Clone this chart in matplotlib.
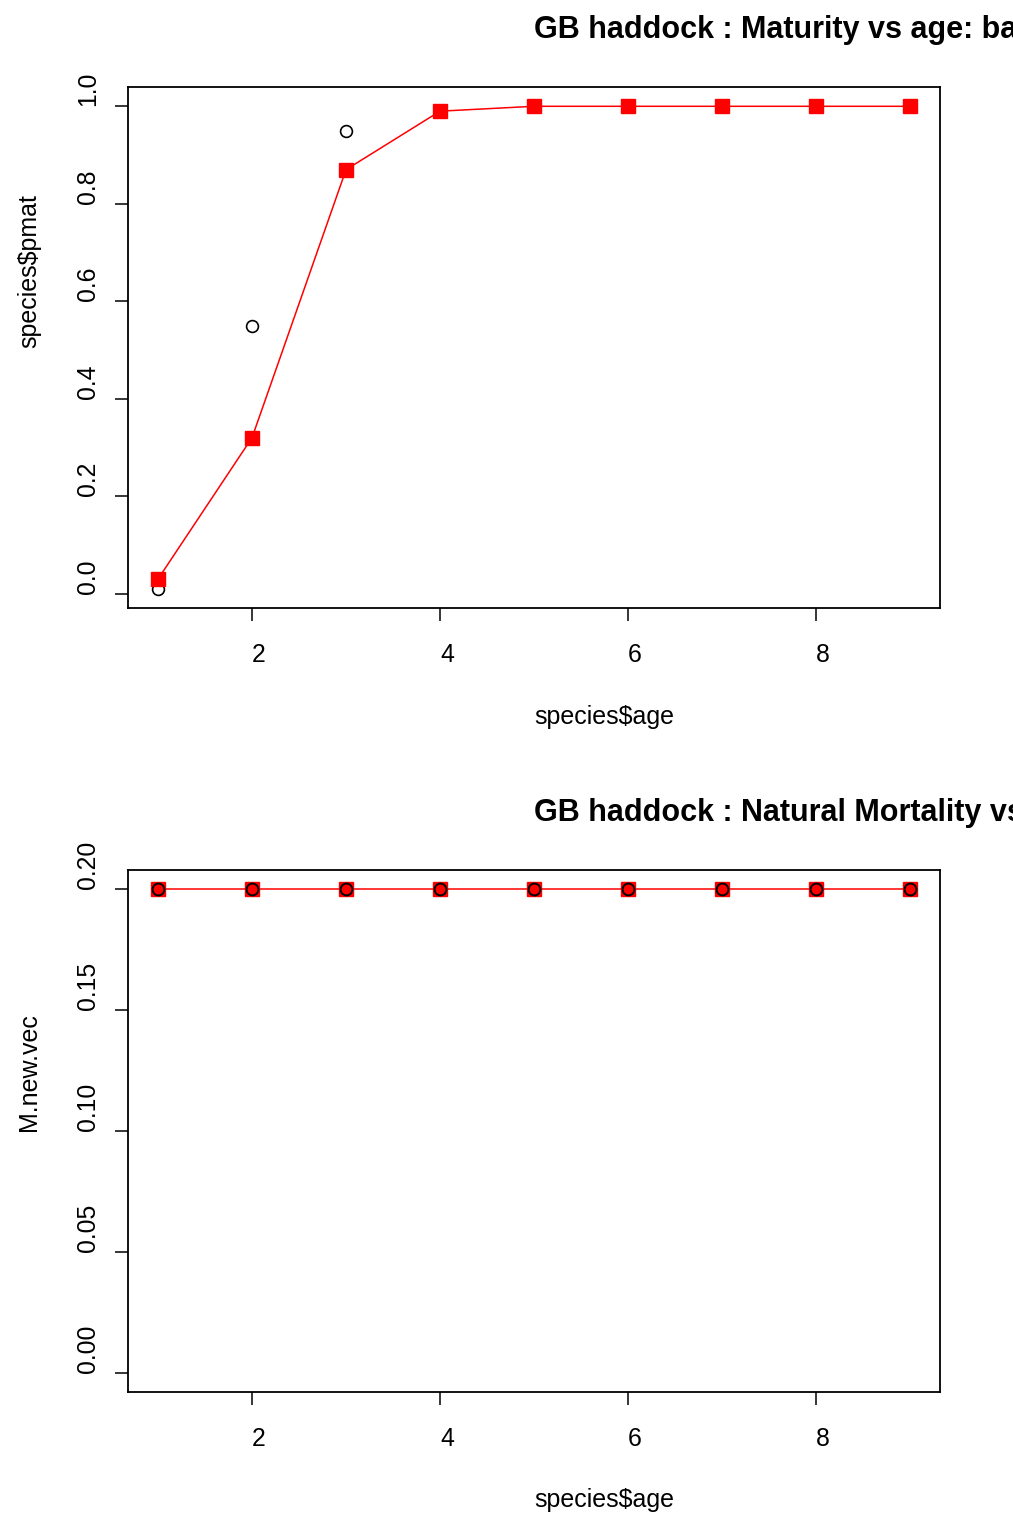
import numpy as np
import matplotlib
matplotlib.use("Agg")
import matplotlib.pyplot as plt
import matplotlib.transforms as mtransforms

plt.rcParams['font.family'] = ['Liberation Sans', 'DejaVu Sans']

# maturity / mortality by age
age = [1, 2, 3, 4, 5, 6, 7, 8, 9]
pmat_obs = [0.01, 0.55, 0.95, 0.99, 1.0, 1.0, 1.0, 1.0, 1.0]
pmat_fit = [0.03, 0.32, 0.87, 0.99, 1.0, 1.0, 1.0, 1.0, 1.0]
M_new_vec = [0.2, 0.2, 0.2, 0.2, 0.2, 0.2, 0.2, 0.2, 0.2]

x_ticks = [2, 4, 6, 8]
pmat_ticks = [0.0, 0.2, 0.4, 0.6, 0.8, 1.0]
M_ticks = [0.00, 0.05, 0.10, 0.15, 0.20]

W, H = 1013, 1515
fig = plt.figure(figsize=(W / 100, H / 100), dpi=100)

TICK_FS = 17.8
LAB_FS = 18
TITLE_FS = 22


def r_range(lo, hi):
    pad = (hi - lo) * 0.04
    return lo - pad, hi + pad


def style_axes(ax, yticks, yfmt, ylim, title, ylabel, title_base_px, xlab_px):
    ax.set_xlim(*r_range(min(age), max(age)))
    ax.set_ylim(*ylim)
    ax.set_xticks(x_ticks)
    ax.set_xticklabels([str(t) for t in x_ticks], ha='left', fontsize=TICK_FS)
    ax.set_yticks(yticks)
    ax.set_yticklabels([yfmt.format(t) for t in yticks], rotation=90,
                       va='bottom', fontsize=TICK_FS)
    ax.tick_params(axis='x', length=9.4, width=1.1, pad=16, direction='out')
    ax.tick_params(axis='y', length=9.4, width=1.1, pad=11, direction='out')
    for sp in ax.spines.values():
        sp.set_linewidth(1.3)
        sp.set_color('black')

    # title, axis labels start at the middle of the plot (par(adj=0))
    ax.text(0.5, 1 - title_base_px / H, title,
            transform=mtransforms.blended_transform_factory(ax.transAxes, fig.transFigure),
            ha='left', va='baseline', fontsize=TITLE_FS, fontweight='bold', clip_on=False)
    ax.text(0.5, 1 - xlab_px / H, 'species$age',
            transform=mtransforms.blended_transform_factory(ax.transAxes, fig.transFigure),
            ha='left', va='center', fontsize=LAB_FS)
    ax.text(29 / W, 0.5, ylabel,
            transform=mtransforms.blended_transform_factory(fig.transFigure, ax.transAxes),
            ha='center', va='bottom', rotation=90, fontsize=LAB_FS)


left = 128 / W
width = (940 - 128) / W

# maturity panel
ax1 = fig.add_axes([left, 1 - 608 / H, width, (608 - 87) / H])
ax1.plot(age, pmat_obs, linestyle='none', marker='o', markersize=8.5,
         markerfacecolor='none', markeredgecolor='black', markeredgewidth=1.2)
ax1.plot(age, pmat_fit, color='red', linewidth=1.1, marker='s', markersize=10,
         markerfacecolor='red', markeredgecolor='red')
style_axes(ax1, pmat_ticks, '{:.1f}', r_range(min(pmat_obs), max(pmat_obs)),
           'GB haddock : Maturity vs age: base and new', 'species$pmat', 38, 717)

# natural mortality panel
ax2 = fig.add_axes([left, 1 - 1392 / H, width, (1392 - 870) / H])
ax2.plot(age, M_new_vec, color='red', linewidth=1.1, marker='s', markersize=10,
         markerfacecolor='red', markeredgecolor='red')
ax2.plot(age, M_new_vec, linestyle='none', marker='o', markersize=8.5,
         markerfacecolor='none', markeredgecolor='black', markeredgewidth=1.4)
style_axes(ax2, M_ticks, '{:.2f}', r_range(0.0, 0.2),
           'GB haddock : Natural Mortality vs age', 'M.new.vec', 821, 1500)

fig.savefig('out.png', dpi=100)
